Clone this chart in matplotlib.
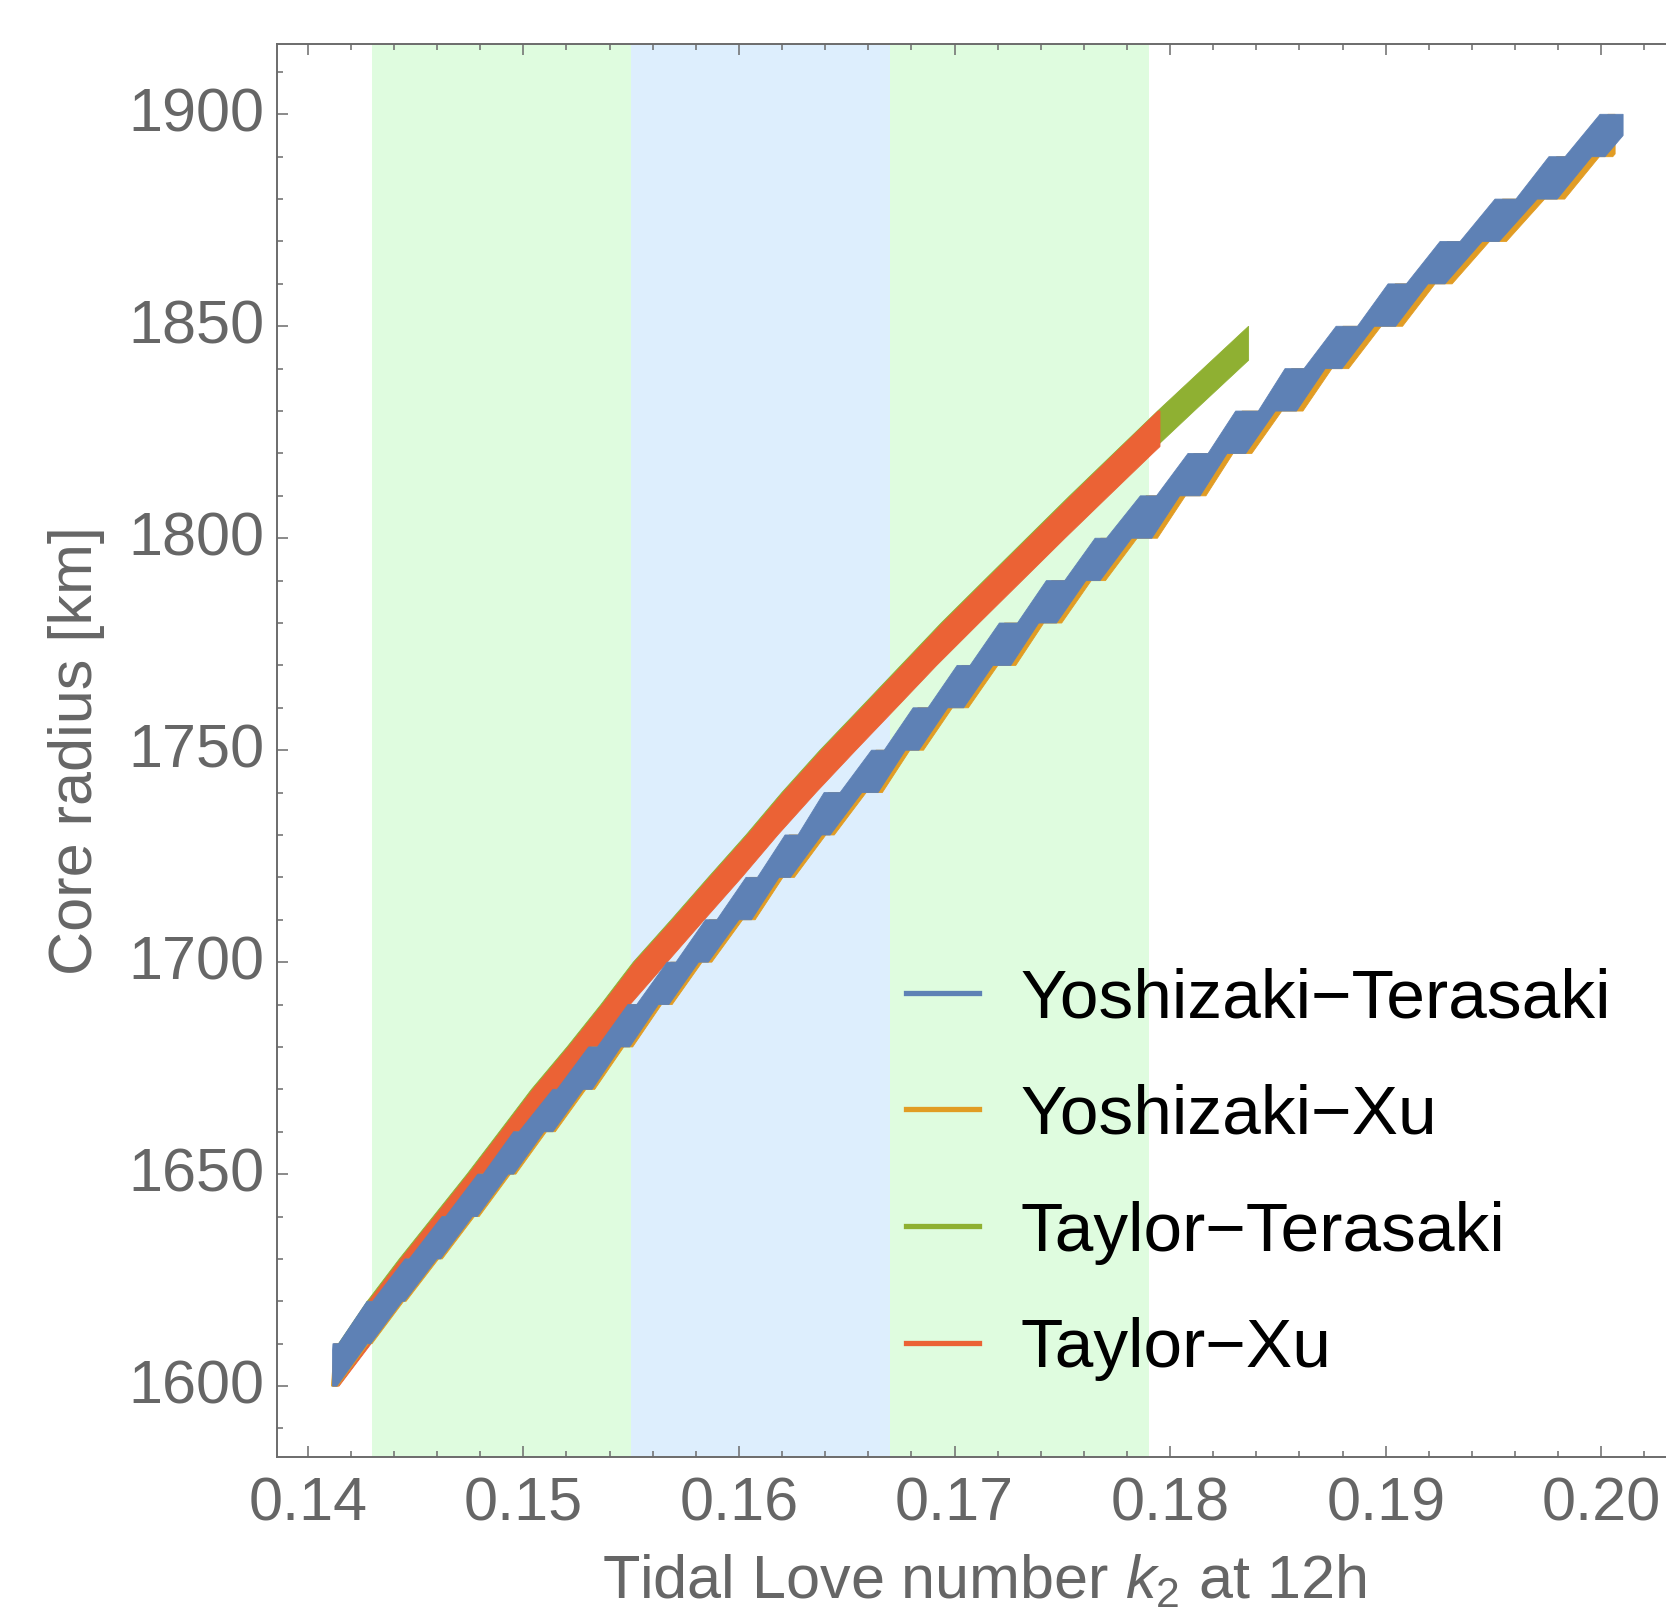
import numpy as np
import matplotlib
matplotlib.use("Agg")
import matplotlib.pyplot as plt
from matplotlib.lines import Line2D
from matplotlib.ticker import MultipleLocator, FormatStrFormatter
from matplotlib.transforms import ScaledTranslation

plt.rcParams['font.family'] = ['Liberation Sans', 'DejaVu Sans']
plt.rcParams['mathtext.fontset'] = 'custom'
plt.rcParams['mathtext.rm'] = 'Liberation Sans'
plt.rcParams['mathtext.it'] = 'Liberation Sans:italic'

# core radius levels [km]
radius = list(range(1600, 1910, 10))

# measured k2 (12 h) : mean and 1-sigma
k2_mean = 0.161
k2_sigma = 0.006

# Yoshizaki-Terasaki: k2 interval where the upper / lower edge is flat at each radius
yt_top_from = [0.14105, 0.14117, 0.14275, 0.14452, 0.14623, 0.14789, 0.14955, 0.15137,
               0.15303, 0.15485, 0.15667, 0.15845, 0.16033, 0.16214, 0.16395, 0.16615,
               0.16808, 0.17012, 0.17208, 0.17426, 0.17652, 0.17862, 0.18083, 0.18304,
               0.18533, 0.18770, 0.19011, 0.19252, 0.19507, 0.19757, 0.19994]
yt_top_to = [0.14105, 0.14143, 0.14301, 0.14471, 0.14640, 0.14814, 0.14980, 0.15157,
             0.15344, 0.15526, 0.15708, 0.15898, 0.16086, 0.16274, 0.16469, 0.16674,
             0.16877, 0.17072, 0.17292, 0.17511, 0.17705, 0.17937, 0.18176, 0.18409,
             0.18621, 0.18869, 0.19096, 0.19345, 0.19604, 0.19832, 0.20101]
yt_bot_from = [0.14115, 0.14276, 0.14438, 0.14599, 0.14764, 0.14930, 0.15096, 0.15278,
               0.15452, 0.15626, 0.15813, 0.16000, 0.16186, 0.16384, 0.16570, 0.16772,
               0.16968, 0.17178, 0.17390, 0.17609, 0.17821, 0.18044, 0.18264, 0.18488,
               0.18719, 0.18947, 0.19196, 0.19447, 0.19702, 0.19955, 0.20185]
yt_bot_to = [0.14135, 0.14292, 0.14449, 0.14616, 0.14786, 0.14955, 0.15137, 0.15319,
             0.15493, 0.15675, 0.15858, 0.16058, 0.16239, 0.16423, 0.16645, 0.16835,
             0.17042, 0.17261, 0.17473, 0.17675, 0.17915, 0.18139, 0.18351, 0.18586,
             0.18797, 0.19046, 0.19275, 0.19526, 0.19795, 0.20017, 0.20185]
yt_span = (0.14115, 0.20101)

# Yoshizaki-Xu
yx_top_from = [0.14110, 0.14123, 0.14282, 0.14460, 0.14632, 0.14799, 0.14966, 0.15149,
               0.15317, 0.15500, 0.15683, 0.15862, 0.16051, 0.16233, 0.16415, 0.16636,
               0.16830, 0.17035, 0.17232, 0.17451, 0.17678, 0.17889, 0.18111, 0.18334,
               0.18564, 0.18802, 0.19044, 0.19286, 0.19542, 0.19793, 0.20031]
yx_top_to = [0.14110, 0.14149, 0.14308, 0.14479, 0.14649, 0.14824, 0.14991, 0.15169,
             0.15358, 0.15541, 0.15724, 0.15915, 0.16104, 0.16293, 0.16489, 0.16695,
             0.16899, 0.17095, 0.17316, 0.17536, 0.17731, 0.17964, 0.18204, 0.18439,
             0.18652, 0.18901, 0.19129, 0.19379, 0.19639, 0.19868, 0.20138]
yx_bot_from = [0.14120, 0.14282, 0.14445, 0.14607, 0.14773, 0.14940, 0.15107, 0.15290,
               0.15466, 0.15641, 0.15829, 0.16017, 0.16204, 0.16403, 0.16590, 0.16793,
               0.16990, 0.17201, 0.17414, 0.17634, 0.17847, 0.18071, 0.18292, 0.18518,
               0.18750, 0.18979, 0.19229, 0.19481, 0.19737, 0.19991, 0.20222]
yx_bot_to = [0.14140, 0.14298, 0.14456, 0.14624, 0.14795, 0.14965, 0.15148, 0.15331,
             0.15507, 0.15690, 0.15874, 0.16075, 0.16257, 0.16442, 0.16665, 0.16856,
             0.17064, 0.17284, 0.17497, 0.17700, 0.17941, 0.18166, 0.18379, 0.18616,
             0.18828, 0.19078, 0.19308, 0.19560, 0.19830, 0.20053, 0.20222]
yx_span = (0.14110, 0.20064)

# Taylor-Terasaki (up to 1850 km)
tt_top = [0.14106, 0.14143, 0.14276, 0.14425, 0.14582, 0.14739, 0.14889, 0.15038,
          0.15203, 0.15360, 0.15510, 0.15686, 0.15858, 0.16033, 0.16199, 0.16376,
          0.16564, 0.16751, 0.16938, 0.17136, 0.17335, 0.17534, 0.17738, 0.17942,
          0.18153, 0.18364]
tt_bot = [0.14136, 0.14249, 0.14395, 0.14551, 0.14708, 0.14859, 0.15008, 0.15170,
          0.15329, 0.15480, 0.15651, 0.15824, 0.15998, 0.16166, 0.16340, 0.16526,
          0.16713, 0.16901, 0.17097, 0.17295, 0.17494, 0.17698, 0.17902, 0.18111,
          0.18322, 0.18533]
tt_span = (0.14115, 0.18364)

# Taylor-Xu (up to 1830 km)
tx_top = [0.14113, 0.14150, 0.14283, 0.14432, 0.14589, 0.14746, 0.14896, 0.15045,
          0.15210, 0.15367, 0.15517, 0.15693, 0.15865, 0.16040, 0.16206, 0.16383,
          0.16571, 0.16758, 0.16945, 0.17143, 0.17342, 0.17541, 0.17743, 0.17945]
tx_bot = [0.14145, 0.14294, 0.14423, 0.14565, 0.14723, 0.14873, 0.15022, 0.15185,
          0.15344, 0.15495, 0.15667, 0.15839, 0.16013, 0.16180, 0.16357, 0.16542,
          0.16730, 0.16917, 0.17114, 0.17313, 0.17512, 0.17715, 0.17919, 0.18128]
tx_span = (0.14117, 0.17953)

labels = ['Yoshizaki\u2212Terasaki', 'Yoshizaki\u2212Xu', 'Taylor\u2212Terasaki', 'Taylor\u2212Xu']
colors = ['#5e81b5', '#e19c24', '#8fb032', '#eb6235']


def edge(k_from, k_to):
    """polyline (k2, r) of one band edge, flat between k_from and k_to at each level"""
    n = len(k_from)
    xs = np.column_stack([k_from, k_to]).ravel()
    ys = np.repeat(np.asarray(radius[:n], float), 2)
    keep = np.r_[True, np.diff(xs) > 0]
    return xs[keep], ys[keep]


def draw_band(ax, top, bot, span, color, z):
    tx, ty = top
    bx, by = bot
    k0, k1 = span
    it = (tx > k0) & (tx < k1)
    ib = (bx > k0) & (bx < k1)
    px = np.r_[k0, tx[it], k1, k1, bx[ib][::-1], k0]
    py = np.r_[np.interp(k0, tx, ty), ty[it], np.interp(k1, tx, ty),
               np.interp(k1, bx, by), by[ib][::-1], np.interp(k0, bx, by)]
    ax.fill(px, py, facecolor=color, edgecolor=color, lw=0.6, zorder=z)


fig = plt.figure(figsize=(16.66, 16.09), dpi=100)
ax = fig.add_axes([0.16609, 0.09428, 0.83391, 0.87868])

gray = '#6b6b6b'
txtgray = '#666666'

# 1-sigma and 3-sigma ranges of the measured k2
ax.axvspan(k2_mean - 3 * k2_sigma, k2_mean - k2_sigma, color='#dffcdf', lw=0, zorder=0)
ax.axvspan(k2_mean + k2_sigma, k2_mean + 3 * k2_sigma, color='#dffcdf', lw=0, zorder=0)
ax.axvspan(k2_mean - k2_sigma, k2_mean + k2_sigma, color='#ddeefd', lw=0, zorder=0)

draw_band(ax, edge(tt_top, tt_top), edge(tt_bot, tt_bot), tt_span, colors[2], 2)
draw_band(ax, edge(tx_top, tx_top), edge(tx_bot, tx_bot), tx_span, colors[3], 3)
draw_band(ax, edge(yx_top_from, yx_top_to), edge(yx_bot_from, yx_bot_to), yx_span, colors[1], 4)
draw_band(ax, edge(yt_top_from, yt_top_to), edge(yt_bot_from, yt_bot_to), yt_span, colors[0], 5)

ax.set_xlim(0.13856, 0.20300)
ax.set_ylim(1583.2, 1916.7)

ax.xaxis.set_major_locator(MultipleLocator(0.01))
ax.xaxis.set_minor_locator(MultipleLocator(0.002))
ax.yaxis.set_major_locator(MultipleLocator(50))
ax.yaxis.set_minor_locator(MultipleLocator(10))
ax.xaxis.set_major_formatter(FormatStrFormatter('%.2f'))
ax.yaxis.set_major_formatter(FormatStrFormatter('%d'))

ax.spines['right'].set_visible(False)
for s in ['left', 'top', 'bottom']:
    ax.spines[s].set_color(gray)
    ax.spines[s].set_linewidth(1.4)
    ax.spines[s].set_zorder(6)

ax.tick_params(which='both', direction='in', top=True, right=False, color=gray,
               width=1.1, labelsize=44, labelcolor=txtgray)
ax.tick_params(which='major', length=7.6)
ax.tick_params(which='minor', length=4.3)
ax.tick_params(axis='x', pad=13.7)
ax.tick_params(axis='y', pad=8.6)

# y tick numbers sit a little above their ticks
lift = ScaledTranslation(0, 5 / 100, fig.dpi_scale_trans)
for tick in ax.yaxis.get_major_ticks():
    tick.label1.set_transform(tick.label1.get_transform() + lift)

ax.set_xlabel('Tidal Love number $k_2$ at 12h', fontsize=44, color=txtgray)
ax.set_ylabel('Core radius [km]', fontsize=44, color=txtgray)
ax.xaxis.set_label_coords(0.509, -0.068)
ax.yaxis.set_label_coords(-0.1236, 0.5)

handles = [Line2D([], [], color=c, lw=3.8) for c in colors]
ax.legend(handles, labels, loc='upper left', bbox_to_anchor=(906 / 1666, 1 - 967 / 1609),
          bbox_transform=fig.transFigure, frameon=False, fontsize=50,
          handlelength=1.05, handletextpad=0.6, labelspacing=0.76,
          borderpad=0, borderaxespad=0)

fig.savefig('out.png', dpi=100)
